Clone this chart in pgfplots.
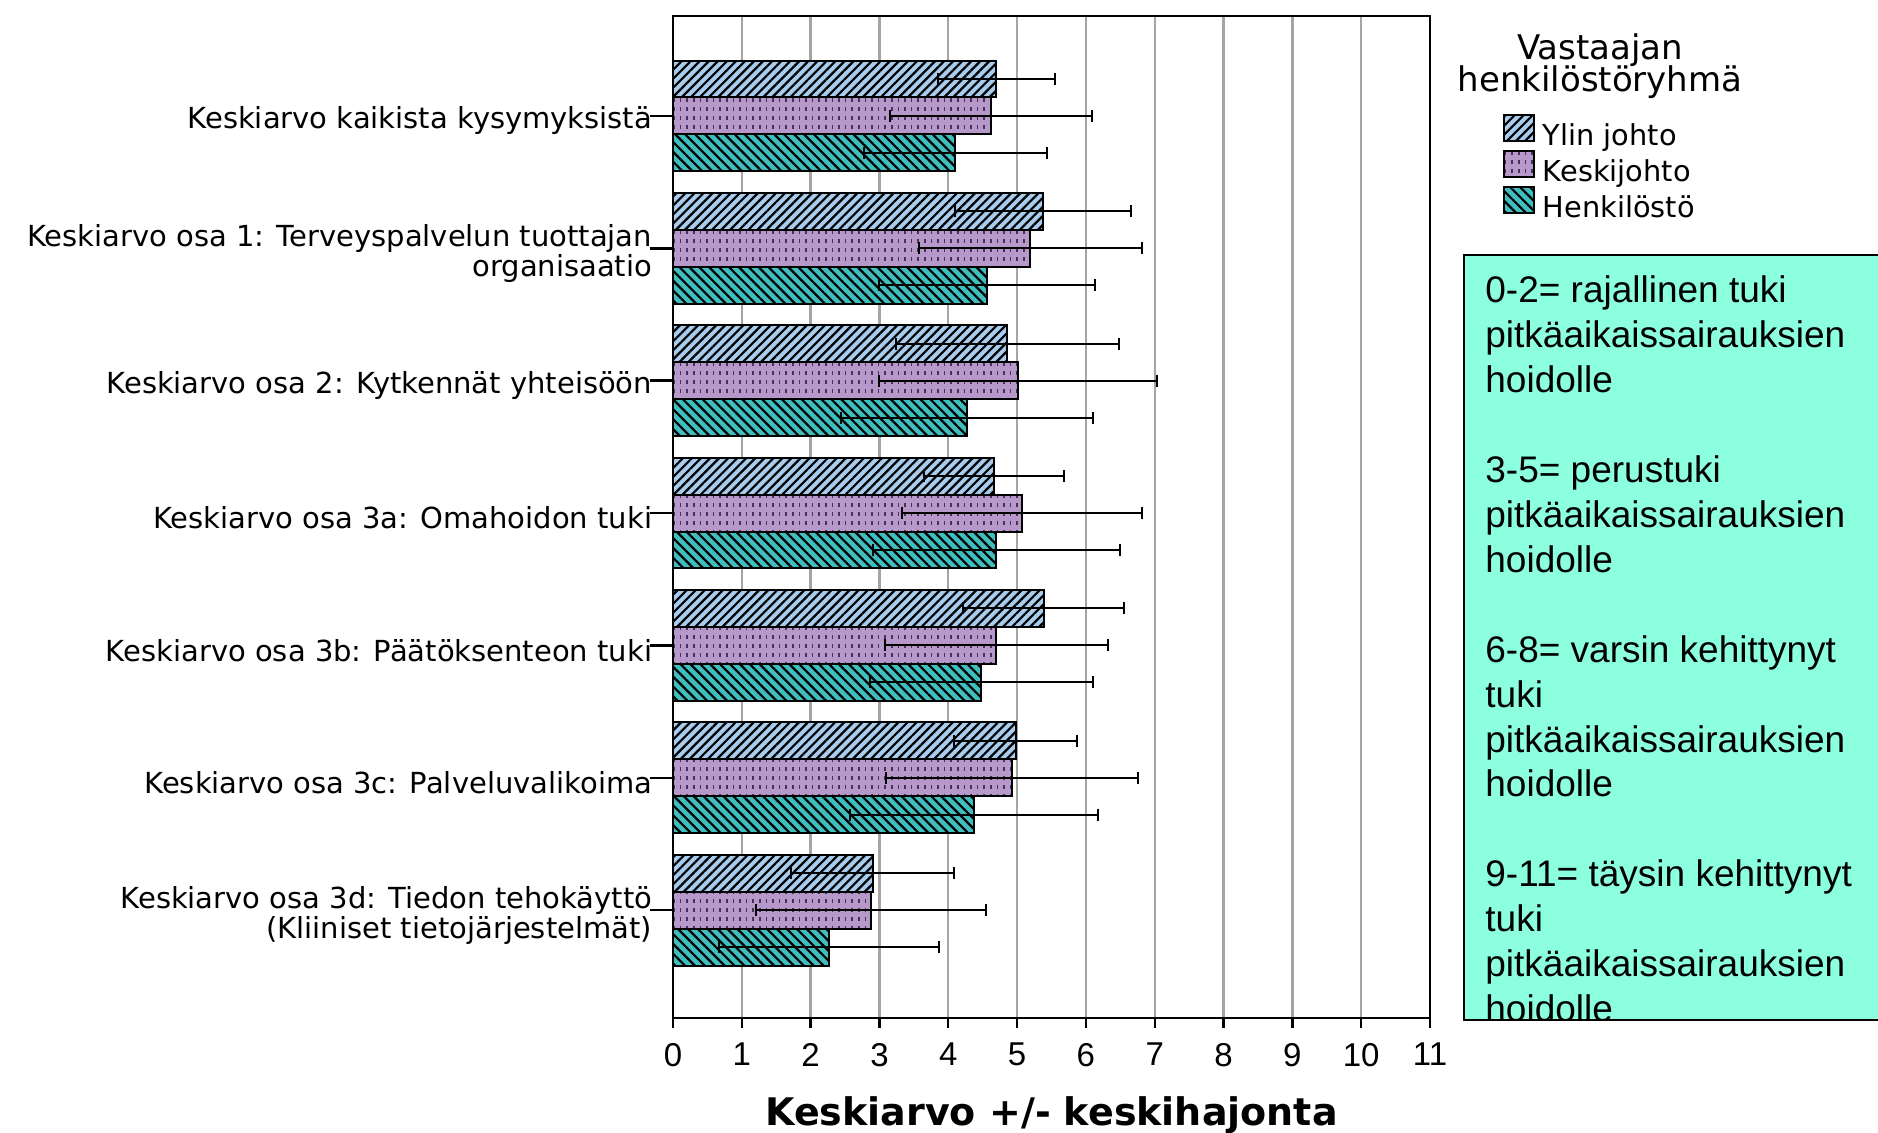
\documentclass[border=0pt]{standalone}
\usepackage{pgfplots}
\pgfplotsset{compat=1.18}
\usepackage{pgfplotstable}
\usepackage{fontspec}
\setmainfont{DejaVu Sans}
\newfontfamily\arial{Liberation Sans}
\usetikzlibrary{patterns,patterns.meta}
\definecolor{ylin}{RGB}{168,204,238}
\definecolor{keski}{RGB}{183,152,203}
\definecolor{henk}{RGB}{62,190,190}
\definecolor{kdot}{RGB}{70,50,85}
\definecolor{aqua}{RGB}{140,255,222}
\definecolor{gridgray}{RGB}{165,165,165}
\pgfdeclarepatternformonly{kdash}{\pgfqpoint{-0.5pt}{-0.5pt}}{\pgfqpoint{4pt}{5pt}}{\pgfqpoint{3.3pt}{4.4pt}}{%
  \pgfpathrectangle{\pgfqpoint{0pt}{0pt}}{\pgfqpoint{0.8pt}{2pt}}\pgfusepath{fill}}

\pgfplotstableread{
c ym ys km ks hm hs
0 4.70 0.85 4.62 1.47 4.10 1.33
1 5.38 1.28 5.19 1.62 4.56 1.57
2 4.86 1.62 5.02 2.02 4.27 1.83
3 4.66 1.02 5.07 1.74 4.70 1.79
4 5.39 1.17 4.70 1.62 4.48 1.62
5 4.98 0.89 4.92 1.83 4.37 1.80
6 2.90 1.19 2.88 1.67 2.27 1.60
}\data

\begin{document}
\begin{tikzpicture}
\useasboundingbox (0,0) rectangle (939pt,566pt);
\begin{axis}[
  at={(336.5pt,57pt)}, anchor=south west,
  scale only axis, width=378.5pt, height=501pt,
  xbar, bar width=0.279,
  xmin=0, xmax=11, ymin=-0.755, ymax=6.815, y dir=reverse,
  xtick={0,...,11}, ytick={0,...,6},
  yticklabels={{Keskiarvo kaikista kysymyksistä},
    {Keskiarvo osa 1: Terveyspalvelun tuottajan\\organisaatio},
    {Keskiarvo osa 2: Kytkennät yhteisöön},
    {Keskiarvo osa 3a: Omahoidon tuki},
    {Keskiarvo osa 3b: Päätöksenteon tuki},
    {Keskiarvo osa 3c: Palveluvalikoima},
    {Keskiarvo osa 3d: Tiedon tehokäyttö\\(Kliiniset tietojärjestelmät)}},
  tick align=outside,
  xtick pos=left, ytick pos=left,
  xtick style={/pgfplots/major tick length=5pt, line width=1.2pt, black},
  ytick style={/pgfplots/major tick length=11.5pt, line width=1.2pt, black},
  /pgf/number format/assume math mode=true,
  xticklabel style={font=\arial\fontsize{16.5}{18}\selectfont, inner sep=0pt, anchor=north, yshift=-8pt},
  yticklabel style={font=\fontsize{14.5}{13}\selectfont, align=right, inner sep=0pt, anchor=east, xshift=-6pt, yshift=-2.5pt},
  xmajorgrids, ymajorgrids=false,
  major grid style={gridgray, line width=1.2pt},
  axis line style={black, line width=1.3pt},
  xlabel={Keskiarvo +/- keskihajonta},
  xlabel style={at={(axis description cs:0.5,0)}, anchor=base, yshift=-53.5pt, font=\bfseries\fontsize{19}{22}\selectfont},
  legend image code/.code={\draw[#1, line width=1pt] (0pt,-1.5pt) rectangle (15pt,11.5pt);},
  legend style={draw=none, fill=none, at={(1.0964,0.902)}, anchor=north west,
    inner sep=0pt, outer sep=0pt, row sep=-1pt, column sep=4pt,
    font=\fontsize{14.4}{16}\selectfont,
    nodes={inner sep=0pt, text height=10.5pt, text depth=3.5pt}},
  legend cell align=left,
  error bars/error bar style={line width=1pt, black},
  error bars/error mark options={rotate=90, line width=1pt, mark size=3pt, black},
]
\addplot[bar shift=-0.279, draw=black, line width=1pt, fill=ylin,
  postaction={pattern={Lines[angle=45,distance=3.2pt,line width=1.1pt]}, pattern color=black},
  error bars/.cd, x dir=both, x explicit]
  table[x=ym, y=c, x error=ys] {\data};
\addplot[bar shift=0, draw=black, line width=1pt, fill=keski,
  postaction={pattern=kdash, pattern color=kdot},
  error bars/.cd, x dir=both, x explicit]
  table[x=km, y=c, x error=ks] {\data};
\addplot[bar shift=0.279, draw=black, line width=1pt, fill=henk,
  postaction={pattern={Lines[angle=-45,distance=3.5pt,line width=1.1pt]}, pattern color=black},
  error bars/.cd, x dir=both, x explicit]
  table[x=hm, y=c, x error=hs] {\data};
\legend{Ylin johto, Keskijohto, Henkilöstö}
\end{axis}
% legend title
\node[anchor=base, inner sep=0pt, font=\fontsize{17}{19}\selectfont] at (800pt,536pt) {Vastaajan};
\node[anchor=base, inner sep=0pt, font=\fontsize{17}{19}\selectfont] at (800pt,520pt) {henkilöstöryhmä};
% explanation box
\begin{scope}
\clip (732pt,56pt) rectangle (945pt,438.5pt);
\fill[aqua] (732pt,56pt) rectangle (945pt,438.5pt);
\foreach \k/\t in {0/{0-2= rajallinen tuki}, 1/{pitkäaikaissairauksien}, 2/{hoidolle},
  4/{3-5= perustuki}, 5/{pitkäaikaissairauksien}, 6/{hoidolle},
  8/{6-8= varsin kehittynyt}, 9/{tuki}, 10/{pitkäaikaissairauksien}, 11/{hoidolle},
  13/{9-11= täysin kehittynyt}, 14/{tuki}, 15/{pitkäaikaissairauksien}, 16/{hoidolle}}
  \node[anchor=base west, inner sep=0pt, font=\arial\fontsize{18.5}{22}\selectfont] at (742.5pt,{414.5pt-22.45pt*\k}) {\t};
\end{scope}
\draw[line width=1pt] (945pt,438.5pt) -- (732pt,438.5pt) -- (732pt,56pt) -- (945pt,56pt);
\end{tikzpicture}
\end{document}
